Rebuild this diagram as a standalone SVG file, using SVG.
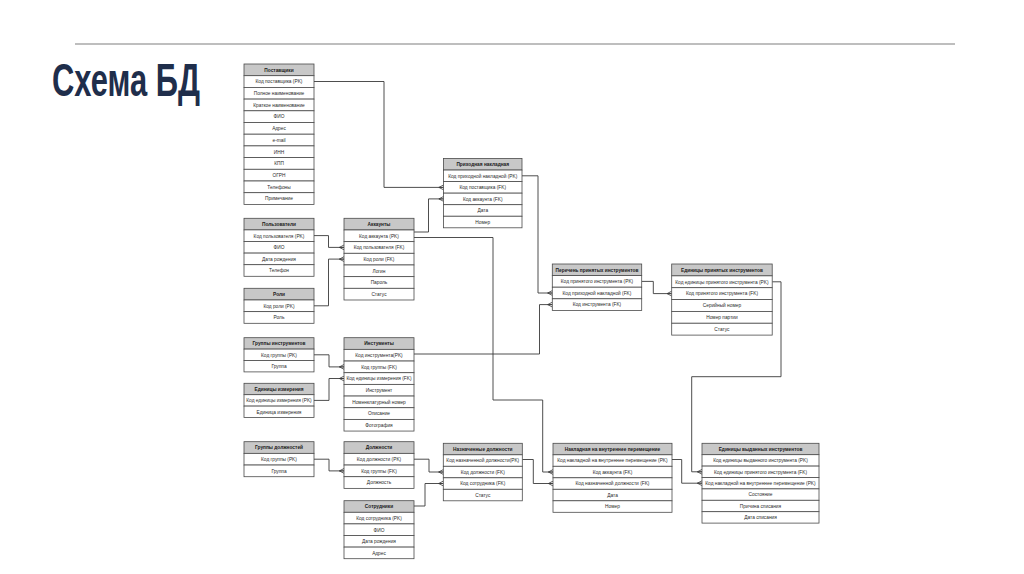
<svg xmlns="http://www.w3.org/2000/svg" width="1024" height="574" viewBox="0 0 1024 574">
<defs>
<style>
.bg{fill:#ffffff}
.row{fill:#ffffff;stroke:#4a4a4a;stroke-width:0.8}
.hdr{fill:#c8c8c8;stroke:#4a4a4a;stroke-width:0.8}
.t{font-family:"Liberation Sans",Arial,sans-serif;font-size:4.8px;fill:#2a2a2a;text-anchor:middle}
.h{font-family:"Liberation Sans",Arial,sans-serif;font-size:4.8px;font-weight:bold;fill:#1a1a1a;text-anchor:middle}
.c{fill:none;stroke:#3a3a3a;stroke-width:0.9}
</style>
<marker id="crow" markerUnits="userSpaceOnUse" markerWidth="6" markerHeight="6" viewBox="0 0 6 6" refX="5.6" refY="3" orient="auto">
<path d="M1,3 L5.6,0.6 M1,3 L5.6,5.4 M1,3 L5.6,3" fill="none" stroke="#3a3a3a" stroke-width="0.8"/>
</marker>
</defs>
<rect class="bg" x="0" y="0" width="1024" height="574"/>
<line x1="75" y1="44" x2="955" y2="44" stroke="#a8a8a8" stroke-width="1.6"/>
<text transform="translate(52,96) scale(1,1.45)" x="0" y="0" font-family="'Liberation Sans Narrow','Liberation Sans',Arial,sans-serif" font-size="32" font-weight="bold" fill="#1f2e4b" textLength="148" lengthAdjust="spacingAndGlyphs">Схема БД</text>

<g id="connectors">
<path class="c" d="M314,81.5 H384 V187.4 H443.5" marker-end="url(#crow)"/>
<path class="c" d="M414,232 H428.5 V198.9 H443.5" marker-end="url(#crow)"/>
<path class="c" d="M314,235.6 H328.5 V247.4 H344" marker-end="url(#crow)"/>
<path class="c" d="M314,305.8 H328.5 V259.1 H344" marker-end="url(#crow)"/>
<path class="c" d="M414,237.5 H493 V400 H542.7 V472 H553" marker-end="url(#crow)"/>
<path class="c" d="M314,354.8 H329 V366.9 H344" marker-end="url(#crow)"/>
<path class="c" d="M314,400.4 H329 V378.5 H344" marker-end="url(#crow)"/>
<path class="c" d="M414,354 H539.5 V304.6 H552.3" marker-end="url(#crow)"/>
<path class="c" d="M522,175.8 H538 V293 H552.3" marker-end="url(#crow)"/>
<path class="c" d="M641.7,281.4 H653.3 V293.6 H671.7" marker-end="url(#crow)"/>
<path class="c" d="M772.2,281.8 H781 V376.7 H691.7 V471.8 H702" marker-end="url(#crow)"/>
<path class="c" d="M672,459.5 H681.7 V483.2 H702" marker-end="url(#crow)"/>
<path class="c" d="M522.3,459.5 H533.3 V483.5 H553" marker-end="url(#crow)"/>
<path class="c" d="M314,459.2 H329 V470.9 H344" marker-end="url(#crow)"/>
<path class="c" d="M414,459.2 H429 V472 H443.3" marker-end="url(#crow)"/>
<path class="c" d="M414,506 H425 V483.5 H443.3" marker-end="url(#crow)"/>
</g>

<g id="postavshchiki">
<rect class="hdr" x="244" y="64" width="70" height="11.7"/>
<rect class="row" x="244" y="75.7" width="70" height="11.7"/>
<rect class="row" x="244" y="87.4" width="70" height="11.7"/>
<rect class="row" x="244" y="99.1" width="70" height="11.7"/>
<rect class="row" x="244" y="110.8" width="70" height="11.7"/>
<rect class="row" x="244" y="122.5" width="70" height="11.7"/>
<rect class="row" x="244" y="134.2" width="70" height="11.7"/>
<rect class="row" x="244" y="145.9" width="70" height="11.7"/>
<rect class="row" x="244" y="157.6" width="70" height="11.7"/>
<rect class="row" x="244" y="169.3" width="70" height="11.7"/>
<rect class="row" x="244" y="181" width="70" height="11.7"/>
<rect class="row" x="244" y="192.7" width="70" height="11.7"/>
<text class="h" x="279" y="71.6">Поставщики</text>
<text class="t" x="279" y="83.3">Код поставщика (PK)</text>
<text class="t" x="279" y="95">Полное наименование</text>
<text class="t" x="279" y="106.7">Краткое наименование</text>
<text class="t" x="279" y="118.4">ФИО</text>
<text class="t" x="279" y="130.1">Адрес</text>
<text class="t" x="279" y="141.8">e-mail</text>
<text class="t" x="279" y="153.5">ИНН</text>
<text class="t" x="279" y="165.2">КПП</text>
<text class="t" x="279" y="176.9">ОГРН</text>
<text class="t" x="279" y="188.6">Телефоны</text>
<text class="t" x="279" y="200.3">Примечание</text>
</g>

<g id="polzovateli">
<rect class="hdr" x="244" y="218.3" width="70" height="11.6"/>
<rect class="row" x="244" y="229.9" width="70" height="11.6"/>
<rect class="row" x="244" y="241.5" width="70" height="11.6"/>
<rect class="row" x="244" y="253.1" width="70" height="11.6"/>
<rect class="row" x="244" y="264.7" width="70" height="11.6"/>
<text class="h" x="279" y="225.9">Пользователи</text>
<text class="t" x="279" y="237.5">Код пользователя (PK)</text>
<text class="t" x="279" y="249.1">ФИО</text>
<text class="t" x="279" y="260.7">Дата рождения</text>
<text class="t" x="279" y="272.3">Телефон</text>
</g>

<g id="roli">
<rect class="hdr" x="244" y="288.3" width="70" height="11.67"/>
<rect class="row" x="244" y="299.97" width="70" height="11.67"/>
<rect class="row" x="244" y="311.64" width="70" height="11.67"/>
<text class="h" x="279" y="295.9">Роли</text>
<text class="t" x="279" y="307.6">Код роли (PK)</text>
<text class="t" x="279" y="319.3">Роль</text>
</g>

<g id="akkaunty">
<rect class="hdr" x="344" y="218.3" width="70" height="11.67"/>
<rect class="row" x="344" y="229.97" width="70" height="11.67"/>
<rect class="row" x="344" y="241.64" width="70" height="11.67"/>
<rect class="row" x="344" y="253.31" width="70" height="11.67"/>
<rect class="row" x="344" y="264.98" width="70" height="11.67"/>
<rect class="row" x="344" y="276.65" width="70" height="11.67"/>
<rect class="row" x="344" y="288.32" width="70" height="11.67"/>
<text class="h" x="379" y="225.9">Аккаунты</text>
<text class="t" x="379" y="237.6">Код аккаунта (PK)</text>
<text class="t" x="379" y="249.3">Код пользователя (FK)</text>
<text class="t" x="379" y="260.9">Код роли (FK)</text>
<text class="t" x="379" y="272.6">Логин</text>
<text class="t" x="379" y="284.3">Пароль</text>
<text class="t" x="379" y="296">Статус</text>
</g>

<g id="prihodnaya">
<rect class="hdr" x="443.5" y="158.5" width="78.5" height="11.55"/>
<rect class="row" x="443.5" y="170.05" width="78.5" height="11.55"/>
<rect class="row" x="443.5" y="181.6" width="78.5" height="11.55"/>
<rect class="row" x="443.5" y="193.15" width="78.5" height="11.55"/>
<rect class="row" x="443.5" y="204.7" width="78.5" height="11.55"/>
<rect class="row" x="443.5" y="216.25" width="78.5" height="11.55"/>
<text class="h" x="482.75" y="166.1">Приходная накладная</text>
<text class="t" x="482.75" y="177.6">Код приходной накладной (PK)</text>
<text class="t" x="482.75" y="189.2">Код поставщика (FK)</text>
<text class="t" x="482.75" y="200.7">Код аккаунта (FK)</text>
<text class="t" x="482.75" y="212.3">Дата</text>
<text class="t" x="482.75" y="223.8">Номер</text>
</g>

<g id="gruppy-instrumentov">
<rect class="hdr" x="244" y="337.7" width="70" height="11.4"/>
<rect class="row" x="244" y="349.1" width="70" height="11.4"/>
<rect class="row" x="244" y="360.5" width="70" height="11.4"/>
<text class="h" x="279" y="345.2">Группы инструментов</text>
<text class="t" x="279" y="356.6">Код группы (PK)</text>
<text class="t" x="279" y="368">Группа</text>
</g>

<g id="edinicy-izmereniya">
<rect class="hdr" x="244" y="383.3" width="70" height="11.4"/>
<rect class="row" x="244" y="394.7" width="70" height="11.4"/>
<rect class="row" x="244" y="406.1" width="70" height="11.4"/>
<text class="h" x="279" y="390.8">Единицы измерения</text>
<text class="t" x="279" y="402.2">Код единицы измерения (PK)</text>
<text class="t" x="279" y="413.6">Единица измерения</text>
</g>

<g id="instrumenty">
<rect class="hdr" x="344" y="337.7" width="70" height="11.67"/>
<rect class="row" x="344" y="349.37" width="70" height="11.67"/>
<rect class="row" x="344" y="361.04" width="70" height="11.67"/>
<rect class="row" x="344" y="372.71" width="70" height="11.67"/>
<rect class="row" x="344" y="384.38" width="70" height="11.67"/>
<rect class="row" x="344" y="396.05" width="70" height="11.67"/>
<rect class="row" x="344" y="407.72" width="70" height="11.67"/>
<rect class="row" x="344" y="419.39" width="70" height="11.67"/>
<text class="h" x="379" y="345.3">Инстументы</text>
<text class="t" x="379" y="357">Код инструмента(PK)</text>
<text class="t" x="379" y="368.7">Код группы (FK)</text>
<text class="t" x="379" y="380.3">Код единицы измерения (FK)</text>
<text class="t" x="379" y="392">Инструмент</text>
<text class="t" x="379" y="403.7">Номенклатурный номер</text>
<text class="t" x="379" y="415.4">Описание</text>
<text class="t" x="379" y="427">Фотография</text>
</g>

<g id="perechen">
<rect class="hdr" x="552.3" y="264" width="89.4" height="11.6"/>
<rect class="row" x="552.3" y="275.6" width="89.4" height="11.6"/>
<rect class="row" x="552.3" y="287.2" width="89.4" height="11.6"/>
<rect class="row" x="552.3" y="298.8" width="89.4" height="11.6"/>
<text class="h" x="597" y="271.6">Перечень принятых инструментов</text>
<text class="t" x="597" y="283.2">Код принятого инструмента (PK)</text>
<text class="t" x="597" y="294.8">Код приходной накладной (FK)</text>
<text class="t" x="597" y="306.4">Код инструмента (FK)</text>
</g>

<g id="edinicy-prinyatyh">
<rect class="hdr" x="671.7" y="264" width="100.5" height="11.85"/>
<rect class="row" x="671.7" y="275.85" width="100.5" height="11.85"/>
<rect class="row" x="671.7" y="287.7" width="100.5" height="11.85"/>
<rect class="row" x="671.7" y="299.55" width="100.5" height="11.85"/>
<rect class="row" x="671.7" y="311.4" width="100.5" height="11.85"/>
<rect class="row" x="671.7" y="323.25" width="100.5" height="11.85"/>
<text class="h" x="721.95" y="271.7">Единицы принятых инструментов</text>
<text class="t" x="721.95" y="283.6">Код единицы принятого инструмента (PK)</text>
<text class="t" x="721.95" y="295.4">Код принятого инструмента (FK)</text>
<text class="t" x="721.95" y="307.3">Серийный номер</text>
<text class="t" x="721.95" y="319.1">Номер партии</text>
<text class="t" x="721.95" y="331">Статус</text>
</g>

<g id="gruppy-dolzhnostey">
<rect class="hdr" x="244" y="441.7" width="70" height="11.67"/>
<rect class="row" x="244" y="453.37" width="70" height="11.67"/>
<rect class="row" x="244" y="465.04" width="70" height="11.67"/>
<text class="h" x="279" y="449.3">Группы должностей</text>
<text class="t" x="279" y="461">Код группы (PK)</text>
<text class="t" x="279" y="472.7">Группа</text>
</g>

<g id="dolzhnosti">
<rect class="hdr" x="344" y="441.7" width="70" height="11.67"/>
<rect class="row" x="344" y="453.37" width="70" height="11.67"/>
<rect class="row" x="344" y="465.04" width="70" height="11.67"/>
<rect class="row" x="344" y="476.71" width="70" height="11.67"/>
<text class="h" x="379" y="449.3">Должности</text>
<text class="t" x="379" y="461">Код должности (PK)</text>
<text class="t" x="379" y="472.7">Код группы (FK)</text>
<text class="t" x="379" y="484.3">Должность</text>
</g>

<g id="sotrudniki">
<rect class="hdr" x="344" y="500.7" width="70" height="11.6"/>
<rect class="row" x="344" y="512.3" width="70" height="11.6"/>
<rect class="row" x="344" y="523.9" width="70" height="11.6"/>
<rect class="row" x="344" y="535.5" width="70" height="11.6"/>
<rect class="row" x="344" y="547.1" width="70" height="11.6"/>
<text class="h" x="379" y="508.3">Сотрудники</text>
<text class="t" x="379" y="519.9">Код сотрудника (PK)</text>
<text class="t" x="379" y="531.5">ФИО</text>
<text class="t" x="379" y="543.1">Дата рождения</text>
<text class="t" x="379" y="554.7">Адрес</text>
</g>

<g id="naznachennye">
<rect class="hdr" x="443.3" y="443.3" width="79" height="11.5"/>
<rect class="row" x="443.3" y="454.8" width="79" height="11.5"/>
<rect class="row" x="443.3" y="466.3" width="79" height="11.5"/>
<rect class="row" x="443.3" y="477.8" width="79" height="11.5"/>
<rect class="row" x="443.3" y="489.3" width="79" height="11.5"/>
<text class="h" x="482.8" y="450.8">Назначенные должности</text>
<text class="t" x="482.8" y="462.3">Код назначенной должности(PK)</text>
<text class="t" x="482.8" y="473.8">Код должности (FK)</text>
<text class="t" x="482.8" y="485.3">Код сотрудника (FK)</text>
<text class="t" x="482.8" y="496.8">Статус</text>
</g>

<g id="nakladnaya-peremeshchenie">
<rect class="hdr" x="553" y="443.3" width="119" height="11.5"/>
<rect class="row" x="553" y="454.8" width="119" height="11.5"/>
<rect class="row" x="553" y="466.3" width="119" height="11.5"/>
<rect class="row" x="553" y="477.8" width="119" height="11.5"/>
<rect class="row" x="553" y="489.3" width="119" height="11.5"/>
<rect class="row" x="553" y="500.8" width="119" height="11.5"/>
<text class="h" x="612.5" y="450.8">Накладная на внутреннее перемещение</text>
<text class="t" x="612.5" y="462.3">Код накладной на внутреннее перемещение (PK)</text>
<text class="t" x="612.5" y="473.8">Код аккаунта (FK)</text>
<text class="t" x="612.5" y="485.3">Код назначенной должности (FK)</text>
<text class="t" x="612.5" y="496.8">Дата</text>
<text class="t" x="612.5" y="508.3">Номер</text>
</g>

<g id="edinicy-vydannyh">
<rect class="hdr" x="702" y="443.3" width="117" height="11.4"/>
<rect class="row" x="702" y="454.7" width="117" height="11.4"/>
<rect class="row" x="702" y="466.1" width="117" height="11.4"/>
<rect class="row" x="702" y="477.5" width="117" height="11.4"/>
<rect class="row" x="702" y="488.9" width="117" height="11.4"/>
<rect class="row" x="702" y="500.3" width="117" height="11.4"/>
<rect class="row" x="702" y="511.7" width="117" height="11.4"/>
<text class="h" x="760.5" y="450.8">Единицы выданных инструментов</text>
<text class="t" x="760.5" y="462.2">Код единицы выданного инструмента (PK)</text>
<text class="t" x="760.5" y="473.6">Код единицы принятого инструмента (FK)</text>
<text class="t" x="760.5" y="485">Код накладной на внутреннее перемещение (PK)</text>
<text class="t" x="760.5" y="496.4">Состояние</text>
<text class="t" x="760.5" y="507.8">Причина списания</text>
<text class="t" x="760.5" y="519.2">Дата списания</text>
</g>
</svg>
